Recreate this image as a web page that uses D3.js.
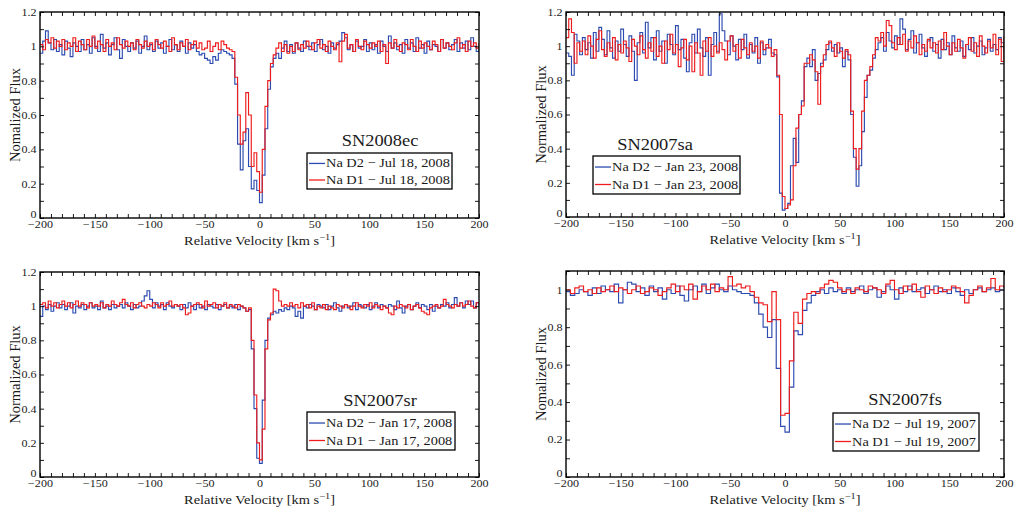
<!DOCTYPE html>
<html>
<head>
<meta charset="utf-8">
<script src="https://cdn.jsdelivr.net/npm/d3@7"></script>
<style>
  body { margin: 0; background: #fff; }
  svg { display: block; }
  svg text { font-family: "Liberation Serif", "DejaVu Serif", "Times New Roman", Times, serif !important; }
</style>
</head>
<body>
<svg id="chart" width="1018" height="513"></svg>
<script>
// Na D interstellar absorption profiles, flux binned in velocity from -200 to +200 km/s.
const velocityDomain = [-200, 200];
const xTicksMajor = [-200, -150, -100, -50, 0, 50, 100, 150, 200];
const yTicksMajor = [0, 0.2, 0.4, 0.6, 0.8, 1, 1.2];
const yTicksMajorFs = [0, 0.2, 0.4, 0.6, 0.8, 1];

const supernovae = ["SN2008ec", "SN2007sa", "SN2007sr", "SN2007fs"];
const obsDates = ["Jul 18, 2008", "Jan 23, 2008", "Jan 17, 2008", "Jul 19, 2007"];
const yMaxima = [1.2, 1.2, 1.2, 1.1];
const yTitles = ["Nomalized Flux", "Normalized Flux", "Normalized Flux", "Nomalized Flux"];

// SN2008ec, 2.5 km/s bins
const sn2008ecD2 = [
  0.96,1.03,1.09,1.02,0.98,1.04,0.97,1.01,0.95,1.03,
  0.99,0.94,1.02,1.00,0.97,1.04,0.98,1.01,0.96,1.05,
  1.00,0.97,1.07,0.99,1.02,0.95,1.01,1.05,0.98,0.93,
  1.04,1.00,0.97,1.02,0.99,1.03,0.96,1.00,1.06,0.98,
  1.01,0.97,1.03,0.99,1.02,0.96,1.00,1.04,0.98,1.01,
  0.97,1.03,1.00,0.96,1.02,0.99,1.01,0.97,0.95,0.96,
  0.93,0.92,0.90,0.94,0.92,0.96,0.98,0.97,0.96,0.95,
  0.93,0.78,0.43,0.28,0.45,0.52,0.30,0.17,0.22,0.16,
  0.09,0.25,0.52,0.75,0.88,0.93,0.96,0.93,0.99,1.03,
  0.97,1.01,0.96,1.02,0.99,0.97,1.03,1.00,0.98,1.02,
  0.97,1.01,1.04,0.98,1.00,0.96,1.02,0.99,1.01,1.03,
  1.08,1.05,0.98,1.01,0.97,1.03,0.99,1.00,1.04,0.97,
  1.02,0.98,1.01,0.96,1.03,1.00,0.97,1.06,0.99,1.02,
  0.98,1.01,0.96,1.04,0.99,1.02,0.97,1.05,0.99,1.01,
  0.96,1.03,0.98,1.01,1.00,0.97,1.04,0.99,1.02,0.98,
  1.01,1.04,0.97,1.02,0.99,1.03,0.98,1.05,1.00,0.97,1.01
];
const sn2008ecD1 = [
  1.01,0.98,1.04,1.02,1.05,0.99,1.03,1.00,1.04,0.98,
  1.02,1.00,1.05,0.97,1.03,1.01,0.98,1.04,1.00,1.06,
  0.99,1.03,1.01,0.97,1.04,1.00,1.02,0.98,1.05,1.01,
  0.99,1.03,1.00,1.02,0.98,1.04,1.01,0.99,1.03,1.00,
  1.02,0.98,1.04,1.01,0.99,1.03,1.00,0.97,1.05,1.01,
  0.98,1.02,1.00,1.04,0.98,1.01,1.03,0.99,1.02,0.98,
  0.99,1.03,0.97,1.00,1.02,0.98,1.03,1.01,0.99,0.98,
  0.97,0.82,0.60,0.43,0.50,0.73,0.60,0.30,0.38,0.27,
  0.15,0.40,0.65,0.80,0.90,0.95,0.99,1.02,0.97,1.01,
  0.96,1.00,0.97,1.02,0.98,1.01,0.99,1.03,1.00,0.98,
  1.02,1.04,0.99,1.01,0.97,1.03,1.00,0.98,1.02,0.91,
  1.03,1.07,0.99,1.01,0.97,1.04,1.00,0.98,1.03,1.01,
  0.99,1.02,1.00,1.03,0.97,1.01,0.90,1.02,0.99,1.04,
  1.00,0.97,1.02,1.01,0.98,1.04,1.00,0.97,1.03,0.99,
  1.02,1.00,0.98,1.03,1.01,0.97,1.04,0.99,1.02,1.00,
  0.98,1.02,1.05,0.99,1.01,0.97,1.03,1.00,1.02,0.99,1.02
];

// SN2007sa, 2.5 km/s bins
const sn2007saD2 = [
  0.96,0.94,0.83,1.07,1.03,0.95,1.05,0.98,1.02,0.93,
  1.08,0.97,1.11,1.04,0.95,1.09,0.99,0.93,1.03,0.97,
  1.10,1.01,0.94,1.06,0.97,0.80,1.02,1.08,0.96,1.14,
  0.99,1.05,0.92,1.09,0.97,1.03,0.90,1.07,1.01,0.95,
  1.12,0.98,1.04,0.93,0.85,1.02,1.07,0.96,1.10,0.99,
  0.94,1.05,0.83,1.01,1.08,0.97,1.19,1.09,1.03,0.95,
  1.06,1.00,0.92,1.04,0.98,1.07,0.93,1.01,0.96,1.05,
  0.90,1.02,0.95,0.99,1.04,0.96,0.95,0.82,0.14,0.04,
  0.05,0.08,0.30,0.46,0.32,0.60,0.68,0.88,0.93,0.88,
  0.98,0.80,0.84,0.90,0.92,0.98,1.02,0.97,1.01,0.96,
  0.99,0.88,0.97,0.92,0.60,0.35,0.18,0.30,0.50,0.70,
  0.83,0.86,0.93,0.98,1.02,1.05,0.97,1.08,1.03,0.99,
  1.06,1.01,1.16,1.10,0.98,1.04,1.09,0.96,1.02,1.07,
  0.99,0.94,1.03,1.05,0.97,1.01,0.93,1.04,0.98,1.02,
  0.95,1.06,0.99,0.97,1.03,0.94,1.01,0.98,1.05,0.96,
  1.00,1.03,0.95,0.99,1.04,0.97,1.01,0.98,1.05,1.02,0.96
];
const sn2007saD1 = [
  1.05,1.16,1.08,0.90,1.02,0.97,1.03,0.95,1.06,1.00,
  0.93,1.04,1.09,0.98,0.94,1.02,0.97,1.05,0.92,1.01,
  0.96,1.03,0.99,0.91,1.04,1.00,0.95,1.06,0.98,0.93,
  1.02,0.97,1.05,0.94,1.00,0.90,1.03,0.98,1.07,0.96,
  1.01,0.88,0.99,1.04,0.92,1.00,0.85,1.02,0.96,0.83,
  1.03,0.97,1.05,0.94,1.00,0.96,1.02,0.98,0.92,1.03,
  1.06,0.97,1.01,0.93,1.04,0.99,0.95,1.02,0.97,1.00,
  0.93,1.03,0.98,1.01,0.99,0.94,0.98,0.83,0.60,0.12,
  0.05,0.07,0.10,0.30,0.52,0.60,0.65,0.90,0.90,0.95,
  0.92,0.85,0.66,0.88,0.95,1.01,1.03,0.99,0.94,1.02,
  0.97,0.93,0.98,0.95,0.62,0.40,0.28,0.40,0.62,0.80,
  0.83,0.88,0.95,1.05,1.03,1.08,1.00,1.15,1.12,1.02,
  0.98,1.05,1.01,1.07,0.97,1.03,0.99,1.06,1.02,0.95,
  1.01,0.97,1.04,0.99,1.02,0.96,1.03,0.98,1.08,1.00,
  0.95,1.02,0.97,1.04,0.99,0.93,1.01,1.05,0.97,1.02,
  0.94,1.06,1.00,0.96,1.03,0.99,1.07,0.95,1.04,0.91,1.06
];

// SN2007sr, 2.5 km/s bins
const sn2007srD2 = [
  0.94,1.00,0.98,1.01,0.97,1.00,1.02,0.99,1.01,0.98,
  1.00,1.02,0.96,1.00,0.99,1.01,0.98,1.00,1.02,0.99,
  1.00,0.98,1.03,0.99,1.00,0.98,1.01,0.99,1.00,1.01,
  0.99,1.02,1.00,0.98,1.01,0.99,1.00,1.03,1.06,1.09,
  1.04,0.99,1.02,1.00,1.01,0.98,1.02,1.00,0.99,1.01,
  1.00,0.98,1.01,0.99,1.02,1.00,0.98,1.01,0.99,1.00,
  0.98,1.01,1.00,0.99,1.01,0.98,1.00,1.01,0.99,1.00,
  0.99,1.01,0.98,1.00,0.99,0.97,0.98,0.75,0.40,0.11,
  0.08,0.45,0.80,0.93,0.95,0.97,0.96,0.98,0.97,0.99,
  0.98,1.00,0.99,0.94,0.97,0.93,1.00,0.99,1.01,1.00,
  0.98,1.01,1.00,0.99,1.01,0.98,1.00,1.02,0.99,0.97,
  1.00,1.01,0.99,1.00,1.02,0.98,1.01,1.00,0.99,1.01,
  0.98,1.00,1.02,0.99,1.01,1.00,0.99,1.01,1.00,0.98,
  1.03,0.99,0.96,1.00,1.01,0.98,1.00,1.02,0.99,1.01,
  1.00,0.98,1.01,0.97,1.00,0.99,1.01,1.00,1.02,0.99,
  1.01,1.05,1.00,1.02,0.99,1.03,1.01,1.03,0.99,1.02,1.00
];
const sn2007srD1 = [
  1.01,1.02,0.99,1.03,1.00,1.02,0.99,1.01,1.03,1.00,
  1.02,0.99,1.01,1.03,1.00,1.02,1.01,0.99,1.02,1.00,
  1.01,1.00,1.02,0.99,1.01,1.00,1.03,1.01,1.00,1.02,
  1.04,1.01,1.00,1.02,0.99,1.01,1.02,1.00,0.99,1.01,
  1.00,1.02,1.01,0.99,1.02,1.00,1.01,1.03,1.00,1.01,
  1.00,1.01,0.99,0.95,0.96,1.00,1.01,1.02,1.01,0.99,
  1.03,1.00,1.01,1.02,0.99,1.01,1.00,1.02,0.99,1.01,
  1.00,0.99,1.01,1.00,0.99,0.97,0.99,0.80,0.48,0.20,
  0.10,0.28,0.75,0.92,0.96,1.10,1.09,1.03,1.00,1.01,
  1.00,1.02,1.00,1.01,0.99,1.02,1.00,1.01,0.99,1.02,
  0.98,1.00,0.99,1.01,0.98,1.00,0.99,0.98,1.01,1.00,
  0.99,1.01,1.00,0.98,1.00,1.02,1.00,0.99,1.01,1.00,
  1.02,0.99,1.01,1.00,0.98,1.00,0.99,0.96,0.95,1.00,
  0.99,1.01,1.00,0.99,1.01,0.98,1.00,1.01,0.99,0.97,
  0.96,0.95,0.99,1.00,1.01,0.99,1.00,1.04,1.01,1.00,
  0.99,1.01,1.00,1.02,1.00,1.01,1.03,1.00,0.99,1.02,1.01
];

// SN2007fs, 4 km/s bins
const sn2007fsD2 = [
  0.99,0.97,0.98,1.00,0.99,0.97,1.01,0.98,1.02,1.00,
  0.99,1.03,0.93,1.00,1.04,1.03,0.99,1.01,0.97,1.02,
  0.99,1.01,0.95,1.00,0.98,1.02,0.97,0.94,1.00,1.02,
  0.99,1.03,0.98,1.01,1.03,1.00,0.99,1.02,1.00,0.99,
  0.98,0.98,0.97,0.93,0.87,0.80,0.745,0.84,0.58,0.27,
  0.24,0.48,0.78,0.76,0.89,0.93,0.97,0.99,1.00,0.98,
  1.01,0.99,1.00,0.98,1.01,0.99,1.00,1.02,0.98,1.00,
  1.01,0.96,0.99,1.02,1.00,0.95,1.01,0.99,1.02,0.99,
  1.00,1.01,0.98,1.00,1.02,0.99,1.00,0.98,1.01,0.99,
  0.97,1.00,0.98,1.00,1.01,0.99,1.00,1.01,0.99,1.00,1.00
];
const sn2007fsD1 = [
  1.00,0.98,1.01,1.02,0.99,1.00,0.98,1.01,0.99,1.00,
  1.02,0.99,1.01,1.00,0.98,1.00,1.02,0.98,0.99,1.01,
  1.00,0.97,0.99,1.01,1.03,0.99,1.02,1.00,1.03,0.95,
  0.99,1.02,1.00,1.03,0.99,1.01,1.00,1.07,1.02,1.03,
  1.01,1.02,0.99,0.96,0.93,0.92,0.83,0.99,0.84,0.33,
  0.34,0.62,0.88,0.82,0.95,0.98,0.99,0.98,1.01,1.03,
  1.05,1.04,1.01,0.99,1.00,0.98,1.01,1.00,0.99,1.02,
  1.01,1.00,0.98,1.03,1.05,1.00,0.98,1.02,1.00,1.03,
  0.99,0.96,1.02,1.00,0.98,1.01,0.99,1.00,1.02,1.01,
  0.99,0.93,0.97,1.00,1.02,0.99,1.01,1.06,1.00,1.02,1.01
];

const d2Series = [sn2008ecD2, sn2007saD2, sn2007srD2, sn2007fsD2];
const d1Series = [sn2008ecD1, sn2007saD1, sn2007srD1, sn2007fsD1];

// ---- page layout (pixel boxes for the four panels) ----
const frames = [
  { left: 40,  right: 479,  top: 12,  bottom: 218, title: [380, 146], legend: [307, 153, 145, 36] },
  { left: 566, right: 1004, top: 12,  bottom: 217, title: [655, 150], legend: [593, 156, 147, 38] },
  { left: 40,  right: 479,  top: 272, bottom: 477, title: [380, 406], legend: [307, 412, 148, 38] },
  { left: 566, right: 1004, top: 271, bottom: 477, title: [905, 405], legend: [833, 413, 146, 38] }
];
const colorD2 = "#2c4bb0";
const colorD1 = "#ee1c1c";
const inkColor = "#1a1a1a";
const stretch = 1.15;   // the serif lettering is set slightly wide
const serifFont = "'Liberation Serif', 'DejaVu Serif', serif";

const svg = d3.select("#chart");

function styleTicks(g) {
  g.select(".domain").remove();
  g.selectAll(".tick line").attr("stroke", "#000").attr("stroke-width", 0.9);
}

frames.forEach((f, k) => {
  const yMax = yMaxima[k];
  const x = d3.scaleLinear().domain(velocityDomain).range([f.left, f.right]);
  const y = d3.scaleLinear().domain([0, yMax]).range([f.bottom, f.top]);
  const g = svg.append("g").attr("font-family", serifFont);

  const clipId = "clip" + k;
  svg.append("clipPath").attr("id", clipId)
    .append("rect").attr("x", f.left).attr("y", f.top)
    .attr("width", f.right - f.left).attr("height", f.bottom - f.top);

  // spectra as histogram steps
  const drawSpectrum = (vals, color) => {
    const n = vals.length;
    const step = (velocityDomain[1] - velocityDomain[0]) / (n - 1);
    const line = d3.line()
      .x((d, i) => x(velocityDomain[0] + i * step))
      .y(d => y(d))
      .curve(d3.curveStepAfter);
    g.append("path").attr("clip-path", `url(#${clipId})`)
      .attr("d", line(vals)).attr("fill", "none")
      .attr("stroke", color).attr("stroke-width", 1.15)
      .attr("stroke-linejoin", "miter");
  };
  drawSpectrum(d2Series[k], colorD2);
  drawSpectrum(d1Series[k], colorD1);

  // minor ticks on all four sides
  const xMinor = d3.range(velocityDomain[0], velocityDomain[1] + 1, 10);
  const yMinor = d3.range(0, Math.round(yMax * 10) + 1).map(v => v / 10);
  g.append("g").attr("transform", `translate(0,${f.bottom})`)
    .call(d3.axisBottom(x).tickValues(xMinor).tickSize(-4).tickSizeOuter(0).tickFormat(""))
    .call(styleTicks);
  g.append("g").attr("transform", `translate(0,${f.top})`)
    .call(d3.axisTop(x).tickValues(xMinor).tickSize(-4).tickSizeOuter(0).tickFormat(""))
    .call(styleTicks);
  g.append("g").attr("transform", `translate(${f.left},0)`)
    .call(d3.axisLeft(y).tickValues(yMinor).tickSize(-4).tickSizeOuter(0).tickFormat(""))
    .call(styleTicks);
  g.append("g").attr("transform", `translate(${f.right},0)`)
    .call(d3.axisRight(y).tickValues(yMinor).tickSize(-4).tickSizeOuter(0).tickFormat(""))
    .call(styleTicks);

  // labelled axes
  g.append("g").attr("transform", `translate(0,${f.bottom})`)
    .call(d3.axisBottom(x).tickValues(xTicksMajor).tickSize(0).tickPadding(2.5).tickFormat(d3.format("d")))
    .attr("font-family", serifFont)
    .call(a => a.select(".domain").remove())
    .call(a => a.selectAll("text").attr("font-size", 10.5).attr("fill", inkColor)
      .attr("transform", `scale(${stretch},1)`));
  g.append("g").attr("transform", `translate(${f.left},0)`)
    .call(d3.axisLeft(y).tickValues(yMax > 1.15 ? yTicksMajor : yTicksMajorFs)
      .tickSize(0).tickPadding(3).tickFormat(d3.format("~g")))
    .attr("font-family", serifFont)
    .call(a => a.select(".domain").remove())
    .call(a => a.selectAll("text").attr("font-size", 10.5).attr("fill", inkColor)
      .attr("transform", `scale(${stretch},1)`))
    // the zero label sits just above the corner so it clears the velocity labels
    .call(a => a.selectAll(".tick").filter(d => d === 0).select("text").attr("dy", "-0.05em"));

  // plot frame
  g.append("rect").attr("x", f.left).attr("y", f.top)
    .attr("width", f.right - f.left).attr("height", f.bottom - f.top)
    .attr("fill", "none").attr("stroke", "#000").attr("stroke-width", 1.4);

  // axis titles
  const xt = g.append("text")
    .attr("transform", `translate(${(f.left + f.right) / 2},${f.bottom + 27}) scale(${stretch},1)`)
    .attr("text-anchor", "middle").attr("font-size", 12.5).attr("fill", inkColor);
  xt.append("tspan").text("Relative Velocity [km s");
  xt.append("tspan").attr("dy", -5).attr("font-size", 9).text("\u22121");
  xt.append("tspan").attr("dy", 5).text("]");

  g.append("text")
    .attr("transform", `translate(${f.left - 20},${(f.top + f.bottom) / 2}) rotate(-90)`)
    .attr("text-anchor", "middle").attr("font-size", 14.5).attr("fill", inkColor)
    .text(yTitles[k]);

  // object name and legend
  g.append("text")
    .attr("transform", `translate(${f.title[0]},${f.title[1]}) scale(${stretch},1)`)
    .attr("text-anchor", "middle").attr("font-size", 16).attr("fill", inkColor)
    .text(supernovae[k]);

  const [lx, ly, lw, lh] = f.legend;
  g.append("rect").attr("x", lx).attr("y", ly).attr("width", lw).attr("height", lh)
    .attr("fill", "#fff").attr("stroke", "#000").attr("stroke-width", 1.3);
  const entries = [
    { label: `Na D2 \u2212 ${obsDates[k]}`, color: colorD2, yy: ly + lh * 0.29 },
    { label: `Na D1 \u2212 ${obsDates[k]}`, color: colorD1, yy: ly + lh * 0.75 }
  ];
  entries.forEach(e => {
    g.append("line").attr("x1", lx + 2).attr("x2", lx + 18)
      .attr("y1", e.yy).attr("y2", e.yy)
      .attr("stroke", e.color).attr("stroke-width", 1.3);
    g.append("text")
      .attr("transform", `translate(${lx + 19},${e.yy + 4}) scale(${stretch},1)`)
      .attr("font-size", 12.5).attr("fill", inkColor)
      .text(e.label);
  });
});
</script>
</body>
</html>
